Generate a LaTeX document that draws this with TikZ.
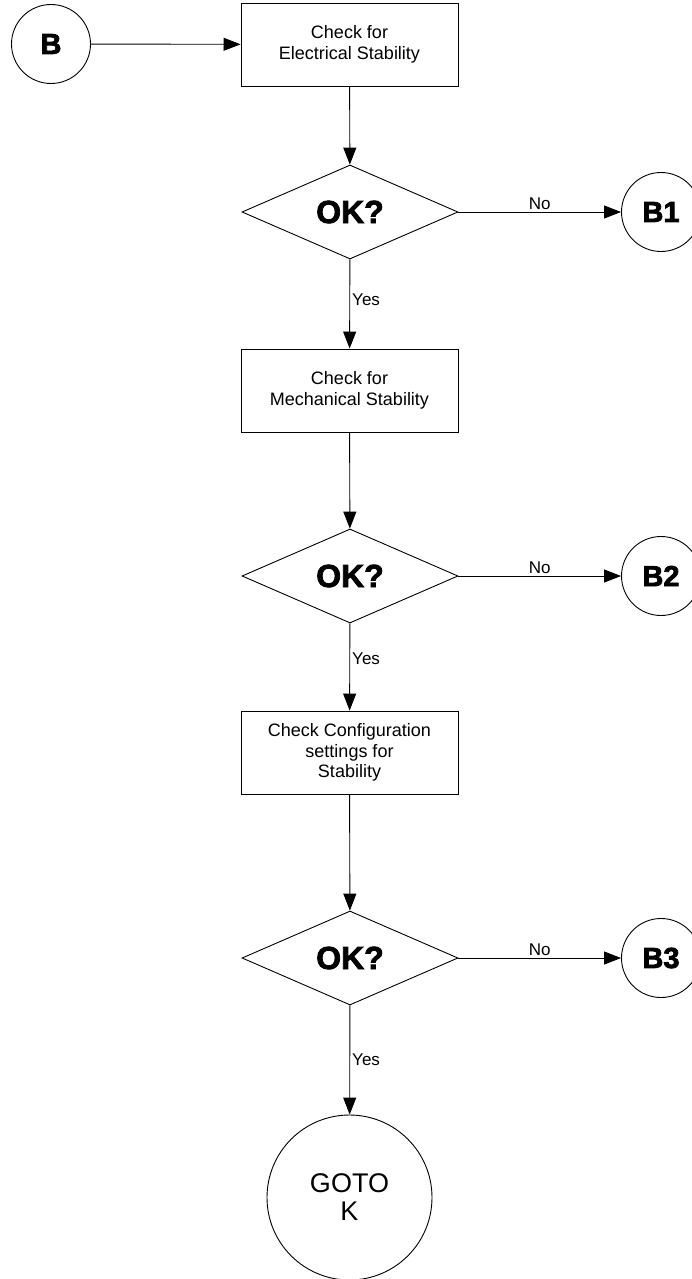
\documentclass[tikz,border=0pt]{standalone}
\usepackage{fontspec}
\setmainfont{Liberation Sans}
\newfontfamily\heavyfont[FakeBold=2.5]{Liberation Sans Bold}
\usetikzlibrary{shapes.geometric, arrows.meta}

\begin{document}
\begin{tikzpicture}[x=1pt, y=-1pt, line width=0.9pt,
    >={Triangle[length=17pt, width=13pt]},
    checkbox/.style={draw, rectangle, minimum width=217pt, minimum height=83pt, align=center, font=\fontsize{18}{21}\selectfont},
    okdiamond/.style={draw, diamond, minimum width=216pt, minimum height=94pt, inner sep=0pt, font=\heavyfont\fontsize{32}{32}\selectfont},
    jump/.style={draw, circle, minimum size=79pt, inner sep=0pt, font=\heavyfont\fontsize{29}{29}\selectfont},
    branch/.style={font=\fontsize{17}{17}\selectfont, inner sep=2pt}]
    % Page
    \useasboundingbox (0,0) rectangle (691,1279);

    % Steps
    \node[jump] (B) at (51,44) {B};
    \node[checkbox] (elec) at (349.5,44.5) {Check for\\Electrical Stability};
    \node[okdiamond] (ok1) at (350,212) {OK?};
    \node[jump] (B1) at (661,212) {B1};
    \node[checkbox] (mech) at (349.5,390.5) {Check for\\Mechanical Stability};
    \node[okdiamond] (ok2) at (350,576) {OK?};
    \node[jump] (B2) at (661,576) {B2};
    \node[checkbox, font=\fontsize{18}{20.5}\selectfont] (config) at (349.5,752.5) {Check Configuration\\settings for\\Stability};
    \node[okdiamond] (ok3) at (350,958) {OK?};
    \node[jump] (B3) at (661,958) {B3};
    \node[draw, circle, minimum size=165pt, inner sep=0pt, align=center, font=\fontsize{27}{28}\selectfont] (gotoK) at (349.5,1197.5) {GOTO\\K};

    % Arrows
    \draw[->] (B) -- (elec);
    \draw[->] (elec) -- (ok1);
    \draw[->] (ok1) -- (B1) node[midway, above, branch] {No};
    \draw[->] (ok1) -- (mech) node[pos=0.45, right, branch] {Yes};
    \draw[->] (mech) -- (ok2);
    \draw[->] (ok2) -- (B2) node[midway, above, branch] {No};
    \draw[->] (ok2) -- (config) node[pos=0.4, right, branch] {Yes};
    \draw[->] (config) -- (ok3);
    \draw[->] (ok3) -- (B3) node[midway, above, branch] {No};
    \draw[->] (ok3) -- (gotoK) node[midway, right, branch] {Yes};
\end{tikzpicture}
\end{document}
